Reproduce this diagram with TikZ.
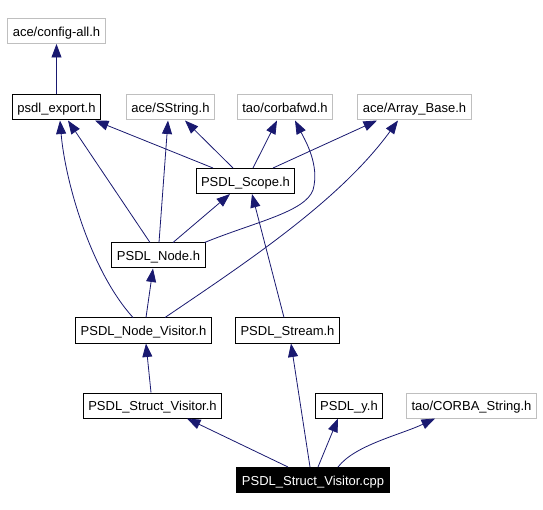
\documentclass[tikz,border=0pt]{standalone}
\usepackage{fontspec}
\setmainfont{Liberation Sans}
\usetikzlibrary{arrows.meta}

\definecolor{edgeblue}{HTML}{191970}
\definecolor{extgray}{HTML}{BFBFBF}

\tikzset{
  file/.style={draw=black, line width=1pt, inner xsep=5pt, minimum height=25pt,
               text height=10.4pt, text depth=0pt, font=\fontsize{13}{15}\selectfont},
  extfile/.style={file, draw=extgray},
  mainfile/.style={file, fill=black, text=white},
}

\begin{document}
\begin{tikzpicture}[x=1pt,y=-1pt,
                    dep/.style={-{Triangle[length=13.5pt,width=10pt]},color=edgeblue,line width=0.8pt}]
  \useasboundingbox (0,0) rectangle (543,510);

  \node[extfile]  (cfg)   at (56.5,31)    {ace/config-all.h};
  \node[file]     (exp)   at (56.5,107.5) {psdl\_export.h};
  \node[extfile]  (sstr)  at (170.5,107.5) {ace/SString.h};
  \node[extfile]  (cfwd)  at (285,107.5)  {tao/corbafwd.h};
  \node[extfile]  (arr)   at (414.5,107.5) {ace/Array\_Base.h};
  \node[file]     (scope) at (245.5,181)  {PSDL\_Scope.h};
  \node[file]     (node)  at (158.5,255.5) {PSDL\_Node.h};
  \node[file]     (nvis)  at (143.5,330.5) {PSDL\_Node\_Visitor.h};
  \node[file]     (strm)  at (287.5,330.5) {PSDL\_Stream.h};
  \node[file]     (svh)   at (152.5,405.5) {PSDL\_Struct\_Visitor.h};
  \node[file]     (y)     at (349,405.5)  {PSDL\_y.h};
  \node[extfile]  (cstr)  at (471.5,405.5) {tao/CORBA\_String.h};
  \node[mainfile] (cpp)   at (313,480)    {PSDL\_Struct\_Visitor.cpp};

  \path[dep] (exp) edge (cfg)
        ([xshift=-32.5pt]scope.north) edge ([xshift=38.5pt]exp.south)
        ([xshift=-12.5pt]scope.north) edge ([xshift=14.5pt]sstr.south)
        ([xshift=7.5pt]scope.north)   edge ([xshift=-8pt]cfwd.south)
        ([xshift=27.5pt]scope.north)  edge ([xshift=-37.5pt]arr.south)
        ([xshift=-8.5pt]node.north)   edge ([xshift=11.5pt]exp.south)
        ([xshift=0.5pt]node.north)    edge ([xshift=-2.5pt]sstr.south)
        ([xshift=14.5pt]node.north)   edge ([xshift=-15.5pt]scope.south)
        ([xshift=2.5pt]nvis.north)    edge ([xshift=-5.5pt]node.south)
        ([xshift=-3.5pt]strm.north)   edge ([xshift=6.5pt]scope.south)
        ([xshift=-1.5pt]svh.north)    edge ([xshift=2.5pt]nvis.south)
        ([xshift=-25pt]cpp.north)     edge ([xshift=34.5pt]svh.south)
        ([xshift=-3pt]cpp.north)      edge ([xshift=3.5pt]strm.south)
        ([xshift=5pt]cpp.north)       edge ([xshift=-11pt]y.south);

  % the bent ones
  \draw[dep] ([xshift=-1pt]node.north east) .. controls (255,222) and (305,212) .. (313,190)
                                       .. controls (320,165) and (305,140) .. ([xshift=10pt]cfwd.south);
  \draw[dep] ([xshift=-10.5pt]nvis.north) .. controls (90,270) and (65,180) .. ([xshift=3.5pt]exp.south);
  \draw[dep] ([xshift=21.5pt]nvis.north) .. controls (250,260) and (340,200) .. ([xshift=-16.5pt]arr.south);
  \draw[dep] ([xshift=25pt]cpp.north) .. controls (355,445) and (400,435) .. ([xshift=-36.5pt]cstr.south);
\end{tikzpicture}
\end{document}
